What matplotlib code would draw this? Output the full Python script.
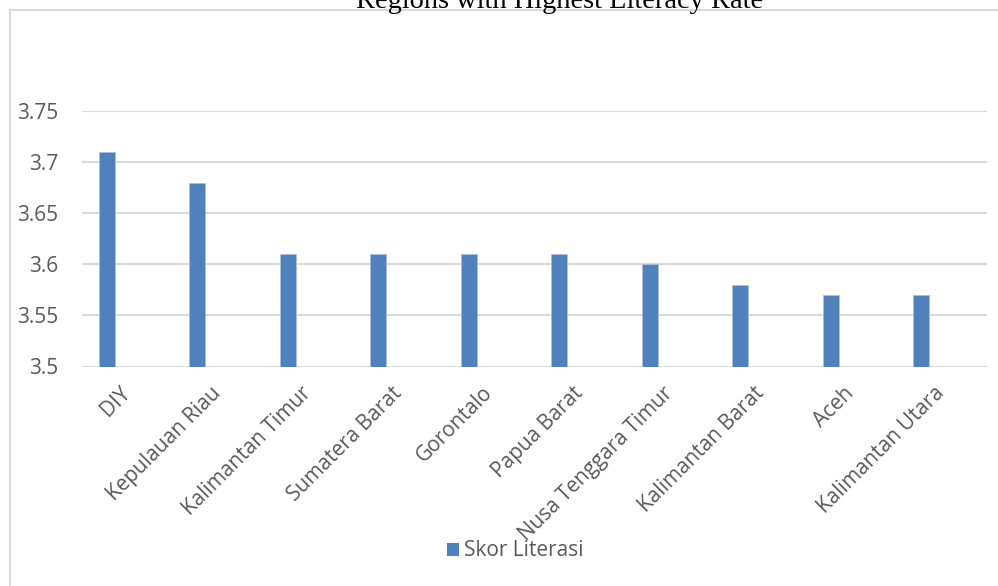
import matplotlib.pyplot as plt
from matplotlib.lines import Line2D
from matplotlib.patches import Patch

regions = [
    "DIY",
    "Kepulauan Riau",
    "Kalimantan Timur",
    "Sumatera Barat",
    "Gorontalo",
    "Papua Barat",
    "Nusa Tenggara Timur",
    "Kalimantan Barat",
    "Aceh",
    "Kalimantan Utara",
]
skor_literasi = [3.71, 3.68, 3.61, 3.61, 3.61, 3.61, 3.60, 3.58, 3.57, 3.57]
y_ticks = [3.5, 3.55, 3.6, 3.65, 3.7, 3.75]
y_tick_labels = ["3.5", "3.55", "3.6", "3.65", "3.7", "3.75"]

W, H = 998, 586
BAR_COLOR = "#4f81bd"
GRID_COLOR = "#d9d9d9"
TEXT_COLOR = "#595959"

plt.rcParams["font.family"] = ["Open Sans", "DejaVu Sans"]

fig = plt.figure(figsize=(W / 100, H / 100), dpi=100)

# chart area border (only the top and left edges are inside the crop)
fig.add_artist(Line2D([10 / W, 10 / W], [0, 1 - 9.5 / H], transform=fig.transFigure,
                      color=GRID_COLOR, lw=1.5))
fig.add_artist(Line2D([10 / W, 1], [1 - 9.5 / H, 1 - 9.5 / H], transform=fig.transFigure,
                      color=GRID_COLOR, lw=1.5))

# title, mostly cut off at the top
fig.text(560 / W, 1 - 8 / H, "Regions with Highest Literacy Rate",
         family="Liberation Serif", fontsize=20.4, color="black",
         ha="center", va="baseline")

ax = fig.add_axes([82 / W, 1 - 366.5 / H, (987 - 82) / W, (366.5 - 111) / H])

x = list(range(len(regions)))
offset = -0.227
bar_x = [i + offset for i in x]
ax.bar(bar_x, [v - 3.5 for v in skor_literasi], bottom=3.5, width=0.175,
       color=BAR_COLOR, edgecolor="#a9c1df", linewidth=0.6, zorder=3,
       label="Skor Literasi")

ax.set_xlim(-0.5, len(regions) - 0.5)
ax.set_ylim(3.5, 3.75)
ax.set_yticks(y_ticks)
ax.set_yticklabels(y_tick_labels)
ax.set_xticks(x)
ax.set_xticklabels(regions, rotation=45, ha="right", va="center",
                   rotation_mode="anchor")

for s in ax.spines.values():
    s.set_visible(False)
ax.grid(axis="y", color=GRID_COLOR, linewidth=1.5, zorder=0)
ax.tick_params(axis="both", length=0, colors=TEXT_COLOR, labelsize=15)
ax.tick_params(axis="y", pad=17)
ax.tick_params(axis="x", pad=17)

handle = Patch(facecolor=BAR_COLOR, edgecolor="none")
fig.legend([handle], ["Skor Literasi"], loc="center",
           bbox_to_anchor=(515 / W, 1 - 551 / H), frameon=False,
           fontsize=15, labelcolor=TEXT_COLOR, handlelength=0.6,
           handleheight=0.6, handletextpad=0.2)

fig.savefig("out.png", dpi=100)
